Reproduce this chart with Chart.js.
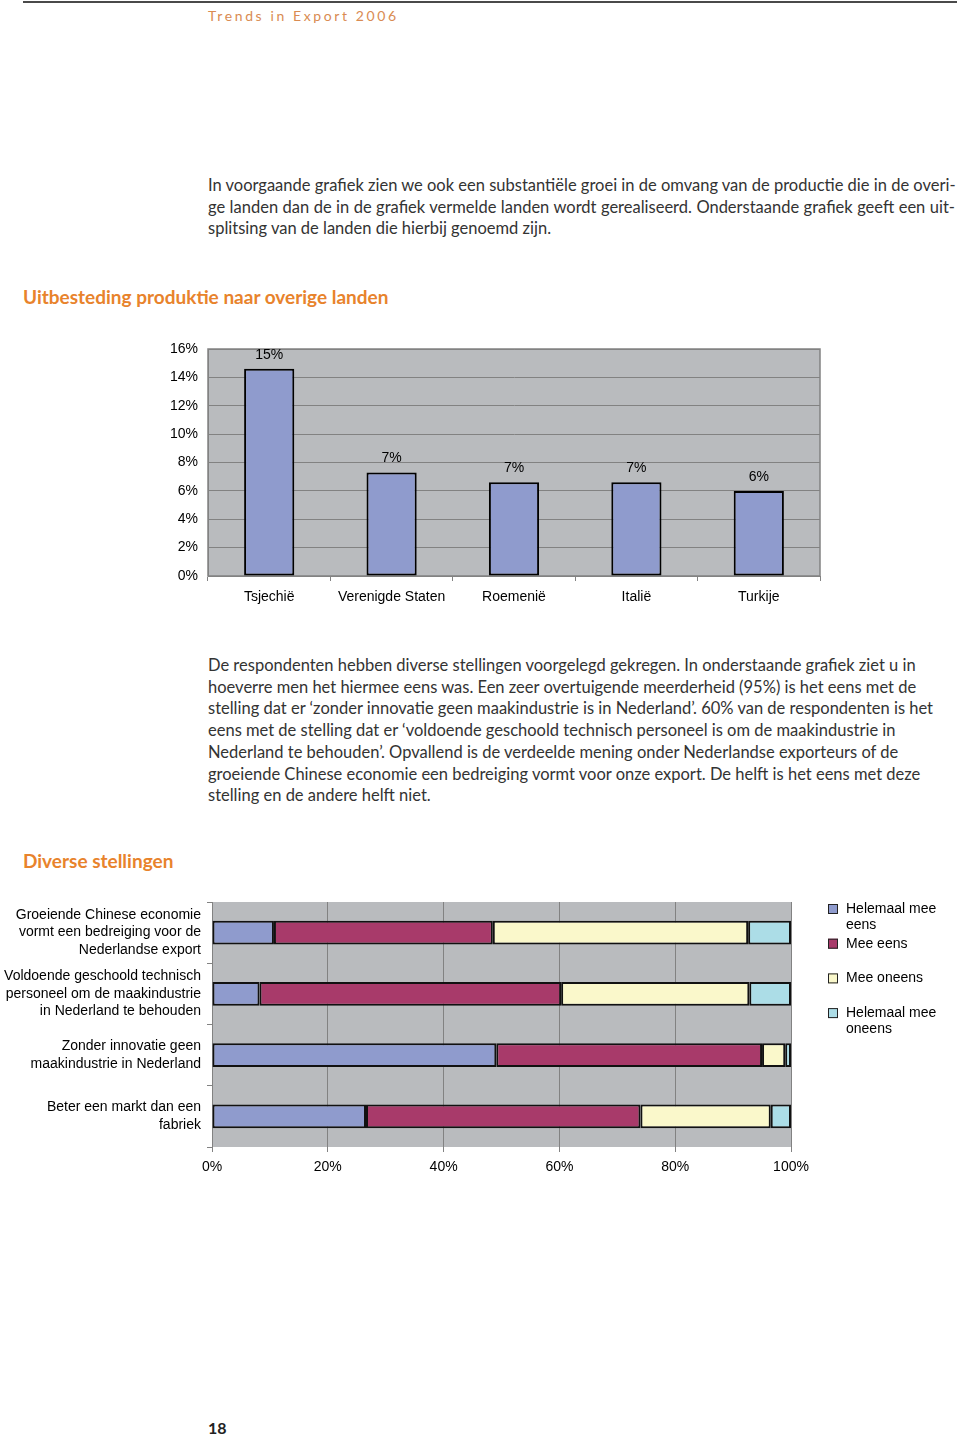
<!DOCTYPE html>
<html>
<head>
<meta charset="utf-8">
<script src="https://cdn.jsdelivr.net/npm/chart.js@4.4.1/dist/chart.umd.min.js"></script>
<style>
  html, body { margin: 0; padding: 0; background: #fff; }
  body { position: relative; width: 960px; height: 1437px; overflow: hidden; font-family: Lato, "Open Sans", sans-serif; color: #333; }
  .rule { position: absolute; left: 23px; top: 1px; width: 934px; height: 2px; background: #4a4a4a; }
  .runhead { position: absolute; left: 208px; top: 7px; font-size: 14px; letter-spacing: 2.6px; color: #d98b52; }
  .para { position: absolute; left: 208px; font-size: 16.5px; line-height: 21.7px; }
  .para div { white-space: nowrap; }
  .para .just { text-align: justify; text-align-last: justify; width: 747px; }
  .head { position: absolute; left: 23px; font-size: 19px; font-weight: bold; color: #e8832c; }
  .box { position: absolute; }
  .pagenr { position: absolute; left: 208px; top: 1418px; font-size: 16px; font-weight: bold; color: #222; }
</style>
</head>
<body>
<div class="rule"></div>
<div class="runhead">Trends in Export 2006</div>

<div class="para" style="top:175px">
  <div class="just">In voorgaande grafiek zien we ook een substantiële groei in de omvang van de productie die in de overi-</div>
  <div class="just">ge landen dan de in de grafiek vermelde landen wordt gerealiseerd. Onderstaande grafiek geeft een uit-</div>
  <div>splitsing van de landen die hierbij genoemd zijn.</div>
</div>

<div class="head" style="top:285px">Uitbesteding produktie naar overige landen</div>

<div class="box" style="left:140px; top:330px; width:690px; height:290px;">
  <canvas id="landen"></canvas>
</div>

<div class="para" style="top:655px">
  <div>De respondenten hebben diverse stellingen voorgelegd gekregen. In onderstaande grafiek ziet u in</div>
  <div>hoeverre men het hiermee eens was. Een zeer overtuigende meerderheid (95%) is het eens met de</div>
  <div>stelling dat er ‘zonder innovatie geen maakindustrie is in Nederland’. 60% van de respondenten is het</div>
  <div>eens met de stelling dat er ‘voldoende geschoold technisch personeel is om de maakindustrie in</div>
  <div>Nederland te behouden’. Opvallend is de verdeelde mening onder Nederlandse exporteurs of de</div>
  <div>groeiende Chinese economie een bedreiging vormt voor onze export. De helft is het eens met deze</div>
  <div>stelling en de andere helft niet.</div>
</div>

<div class="head" style="top:849px">Diverse stellingen</div>

<div class="box" style="left:0px; top:890px; width:960px; height:300px;">
  <canvas id="stellingen"></canvas>
</div>

<div class="pagenr">18</div>

<script>
// --- data: uitbesteding per land (% van overige landen)
const landen = ['Tsjechië', 'Verenigde Staten', 'Roemenië', 'Italië', 'Turkije'];
const aandeel = [14.6, 7.3, 6.6, 6.6, 6.0];

// --- data: stellingen (% respondenten)
const stellingen = [
  ['Groeiende Chinese economie', 'vormt een bedreiging voor de', 'Nederlandse export'],
  ['Voldoende geschoold technisch', 'personeel om de maakindustrie', 'in Nederland te behouden'],
  ['Zonder innovatie geen', 'maakindustrie in Nederland'],
  ['Beter een markt dan een', 'fabriek']
];
const antwoorden = ['Helemaal mee eens', 'Mee eens', 'Mee oneens', 'Helemaal mee oneens'];
const helemaalEens = [10.7, 8.2, 49.1, 26.6];
const meeEens = [37.8, 52.1, 45.9, 47.4];
const meeOneens = [44.1, 32.5, 4.0, 22.5];
const helemaalOneens = [7.4, 7.2, 1.0, 3.5];

const kleuren = ['#8f9bcd', '#a83a6a', '#faf8cb', '#acdde7'];
const plotGrijs = '#b9bbbe';
const lijnGrijs = '#828282';
const labelFont = { family: '"Liberation Sans", Arial, sans-serif', size: 14 };

Chart.defaults.color = '#000';
Chart.defaults.font.family = labelFont.family;

// grey plot background (+ optional frame)
const plotVlak = {
  id: 'plotVlak',
  beforeDraw(chart, args, opts) {
    const { ctx, chartArea: a } = chart;
    ctx.save();
    ctx.fillStyle = plotGrijs;
    ctx.fillRect(a.left, a.top, a.right - a.left, a.bottom - a.top);
    if (opts.frame) {
      ctx.strokeStyle = lijnGrijs;
      ctx.lineWidth = 1.5;
      ctx.strokeRect(a.left, a.top, a.right - a.left, a.bottom - a.top);
    }
    ctx.restore();
  }
};

// value labels above the bars
const waardeLabels = {
  id: 'waardeLabels',
  afterDatasetsDraw(chart) {
    const { ctx } = chart;
    const meta = chart.getDatasetMeta(0);
    ctx.save();
    ctx.font = '14px ' + labelFont.family;
    ctx.fillStyle = '#000';
    ctx.textAlign = 'center';
    ctx.textBaseline = 'middle';
    meta.data.forEach((bar, i) => {
      const v = chart.data.datasets[0].data[i];
      ctx.fillText(Math.round(v) + '%', bar.x, bar.y - 14);
    });
    ctx.restore();
  }
};

// legend at the right side, wrapping long names
const zijLegenda = {
  id: 'zijLegenda',
  afterDraw(chart) {
    const { ctx, chartArea: a } = chart;
    const x = a.right + 37;
    let y = a.top + 7;
    ctx.save();
    ctx.font = '14px ' + labelFont.family;
    ctx.textBaseline = 'middle';
    chart.data.datasets.forEach(ds => {
      ctx.fillStyle = ds.backgroundColor;
      ctx.fillRect(x, y - 5, 10, 10);
      ctx.strokeStyle = '#222';
      ctx.lineWidth = 1;
      ctx.strokeRect(x + 0.5, y - 4.5, 9, 9);
      // simple word wrap
      const lines = [];
      let line = '';
      ds.label.split(' ').forEach(w => {
        const test = line ? line + ' ' + w : w;
        if (ctx.measureText(test).width > 100 && line) { lines.push(line); line = w; }
        else line = test;
      });
      lines.push(line);
      ctx.fillStyle = '#000';
      lines.forEach((l, k) => ctx.fillText(l, x + 18, y + k * 16));
      y += 34.7;
    });
    ctx.restore();
  }
};

new Chart(document.getElementById('landen'), {
  type: 'bar',
  data: {
    labels: landen,
    datasets: [{
      data: aandeel,
      backgroundColor: kleuren[0],
      borderColor: '#000',
      borderWidth: 2,
      borderSkipped: false,
      categoryPercentage: 1,
      barPercentage: 0.41
    }]
  },
  options: {
    responsive: true,
    maintainAspectRatio: false,
    animation: false,
    layout: { padding: { top: 19, right: 10, left: 0, bottom: 0 } },
    plugins: { legend: { display: false }, tooltip: { enabled: false }, plotVlak: { frame: true } },
    scales: {
      x: {
        grid: { drawOnChartArea: false, drawTicks: true, tickLength: 5, color: lijnGrijs },
        border: { color: lijnGrijs },
        ticks: { font: labelFont, padding: 8, maxRotation: 0 },
        afterFit: s => { s.height = 44; }
      },
      y: {
        min: 0, max: 16,
        ticks: { stepSize: 2, font: labelFont, padding: 10, callback: v => v + '%' },
        grid: { color: lijnGrijs, lineWidth: 1, drawTicks: false },
        border: { color: lijnGrijs },
        afterFit: s => { s.width = 68; }
      }
    }
  },
  plugins: [plotVlak, waardeLabels]
});

const reeksen = [helemaalEens, meeEens, meeOneens, helemaalOneens];

new Chart(document.getElementById('stellingen'), {
  type: 'bar',
  data: {
    labels: stellingen,
    datasets: reeksen.map((r, i) => ({
      label: antwoorden[i],
      data: r,
      backgroundColor: kleuren[i],
      borderColor: '#111',
      borderWidth: 2,
      borderSkipped: false,
      categoryPercentage: 1,
      barPercentage: 0.39
    }))
  },
  options: {
    indexAxis: 'y',
    responsive: true,
    maintainAspectRatio: false,
    animation: false,
    layout: { padding: { top: 12, right: 169, left: 0, bottom: 0 } },
    plugins: { legend: { display: false }, tooltip: { enabled: false }, plotVlak: { frame: false } },
    scales: {
      x: {
        stacked: true,
        min: 0, max: 100,
        ticks: { stepSize: 20, font: labelFont, padding: 7, callback: v => v + '%' },
        grid: { color: lijnGrijs, drawTicks: true, tickLength: 5 },
        border: { display: false },
        afterFit: s => { s.height = 43; }
      },
      y: {
        stacked: true,
        ticks: { font: { ...labelFont, lineHeight: 1.25 }, padding: 6 },
        grid: { drawOnChartArea: false, drawTicks: true, tickLength: 5, color: lijnGrijs },
        border: { color: lijnGrijs },
        afterFit: s => { s.width = 212; s.paddingTop = 0; s.paddingBottom = 0; }
      }
    }
  },
  plugins: [plotVlak, zijLegenda]
});
</script>
</body>
</html>
